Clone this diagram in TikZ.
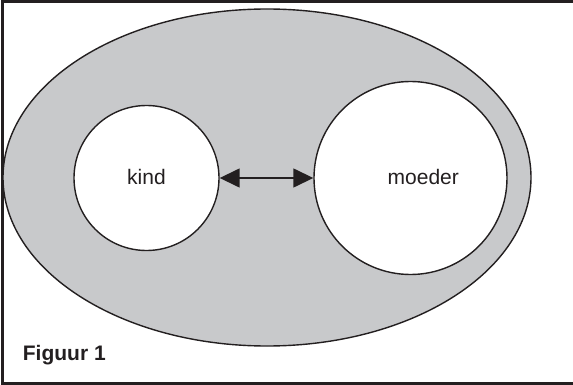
\documentclass[tikz,border=0pt]{standalone}
\usepackage{fontspec}
\setmainfont{Liberation Sans}
\usetikzlibrary{arrows.meta,shapes.geometric}
\definecolor{shade}{HTML}{C8C9CB}
\definecolor{ink}{HTML}{231F20}
\tikzset{
  outline/.style={draw=ink, line width=1.4pt},
  bubble/.style={outline, circle, fill=white, inner sep=0pt},
  label21/.style={font=\fontsize{21}{25}\selectfont, text=ink, inner sep=0pt},
  link/.style={draw=ink, line width=1.5pt,
    {Triangle[length=20pt,width=19pt]}-{Triangle[length=20pt,width=19pt]}}
}
\begin{document}
\begin{tikzpicture}[x=1pt,y=-1pt]
\useasboundingbox (0,0) rectangle (573,385);
% frame
\draw[draw=ink, line width=2.4pt] (2.6,1.6) rectangle (578,383.6);
% grey field
\node[outline, ellipse, fill=shade, inner sep=0pt,
      minimum width=528pt, minimum height=337pt] (field) at (267,177.5) {};
% the two circles
\node[bubble, minimum size=145pt] (kind) at (146.5,178) {};
\node[bubble, minimum size=193pt] (moeder) at (410.5,178) {};
\node[label21, anchor=base] (kindtext) at (146.5,184) {kind};
\node[label21, anchor=base] (moedertext) at (423.3,184) {moeder};
% relation
\draw[link] (kind.east) -- (moeder.west);
% caption
\node[label21, font=\bfseries\fontsize{21}{25}\selectfont, anchor=base west] (caption) at (22.7,360) {Figuur 1};
\end{tikzpicture}
\end{document}
